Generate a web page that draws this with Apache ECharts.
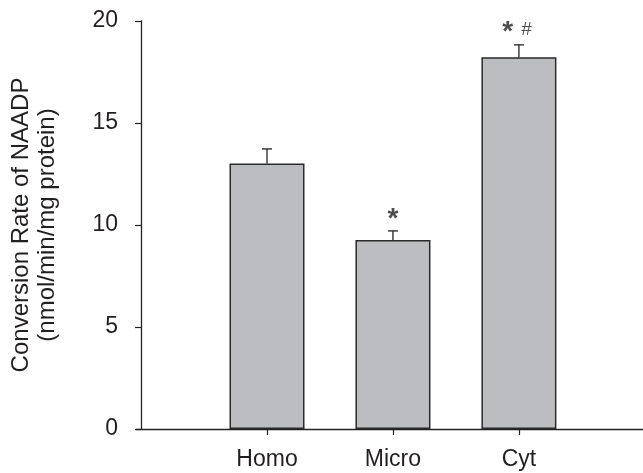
<!DOCTYPE html>
<html>
<head>
<meta charset="utf-8">
<script src="https://cdn.jsdelivr.net/npm/echarts@6/dist/echarts.min.js"></script>
<style>
html,body{margin:0;padding:0;background:#fff;}
#chart{width:643px;height:473px;}
</style>
</head>
<body>
<div id="chart"></div>
<script>
// Data
var categories = ['Homo', 'Micro', 'Cyt'];
var catPositions = [1, 2, 3];
var means = [13.02, 9.27, 18.22];
var errors = [0.71, 0.44, 0.61];
var yTicks = [0, 5, 10, 15, 20];
var annotationText = ['*', '*', '#'];
var annotationX = [2, 2.91, 3.06];
var annotationY = [10.3, 19.45, 19.55];
var annotationSize = [28, 28, 19];
var annotationWeight = ['bold', 'bold', 'normal'];

var FONT = 'Liberation Sans, Arial, Helvetica, sans-serif';
var TXT = '#231f20';

var chart = echarts.init(document.getElementById('chart'), null, {renderer: 'canvas'});

var barData = catPositions.map(function (x, i) { return [x, means[i]]; });
var errData = catPositions.map(function (x, i) { return [x, means[i], means[i] + errors[i]]; });
var annData = annotationX.map(function (x, i) {
  return {
    value: [x, annotationY[i]],
    label: {
      formatter: annotationText[i],
      fontSize: annotationSize[i],
      fontWeight: annotationWeight[i]
    }
  };
});

var option = {
  backgroundColor: '#fff',
  animation: false,
  grid: {left: 136, right: 0, top: 21, bottom: 44, containLabel: false},
  xAxis: {
    type: 'value',
    min: -0.04,
    max: 3.985,
    splitLine: {show: false},
    axisLine: {show: true, lineStyle: {color: '#222', width: 1.3}},
    axisTick: {show: true, customValues: catPositions, length: 6, inside: false, lineStyle: {color: '#222', width: 1.2}},
    axisLabel: {
      show: true,
      customValues: catPositions,
      margin: 19,
      fontSize: 23,
      fontFamily: FONT,
      color: TXT,
      formatter: function (v) {
        var idx = catPositions.indexOf(Math.round(v));
        return idx >= 0 ? categories[idx] : '';
      }
    }
  },
  yAxis: {
    type: 'value',
    min: yTicks[0],
    max: yTicks[yTicks.length - 1],
    interval: 5,
    splitLine: {show: false},
    axisLine: {show: true, onZero: true, lineStyle: {color: '#222', width: 1.3}},
    axisTick: {show: true, length: 6, inside: false, lineStyle: {color: '#222', width: 1.2}},
    axisLabel: {fontSize: 23, fontFamily: FONT, color: TXT, margin: 18},
    name: 'Conversion Rate of NAADP\n(nmol/min/mg protein)',
    nameLocation: 'middle',
    nameRotate: 90,
    nameGap: 76,
    nameTextStyle: {fontSize: 24, fontFamily: FONT, color: TXT, lineHeight: 26}
  },
  series: [
    {
      type: 'bar',
      data: barData,
      barWidth: 75,
      itemStyle: {color: '#bcbdc0', borderColor: '#2a2a2a', borderWidth: 1.5},
      z: 2
    },
    {
      type: 'custom',
      data: errData,
      z: 3,
      renderItem: function (params, api) {
        var x = api.value(0);
        var top = api.coord([x, api.value(2)]);
        var base = api.coord([x, api.value(1)]);
        var half = 5;
        var style = {stroke: '#222', lineWidth: 1.3};
        return {
          type: 'group',
          children: [
            {type: 'line', shape: {x1: base[0], y1: base[1], x2: top[0], y2: top[1]}, style: style},
            {type: 'line', shape: {x1: top[0] - half, y1: top[1], x2: top[0] + half, y2: top[1]}, style: style}
          ]
        };
      }
    },
    {
      type: 'scatter',
      data: annData,
      symbolSize: 0,
      z: 4,
      label: {
        show: true,
        position: [0, 0],
        align: 'center',
        verticalAlign: 'middle',
        fontFamily: FONT,
        color: TXT
      }
    }
  ]
};
chart.setOption(option);
</script>
</body>
</html>
